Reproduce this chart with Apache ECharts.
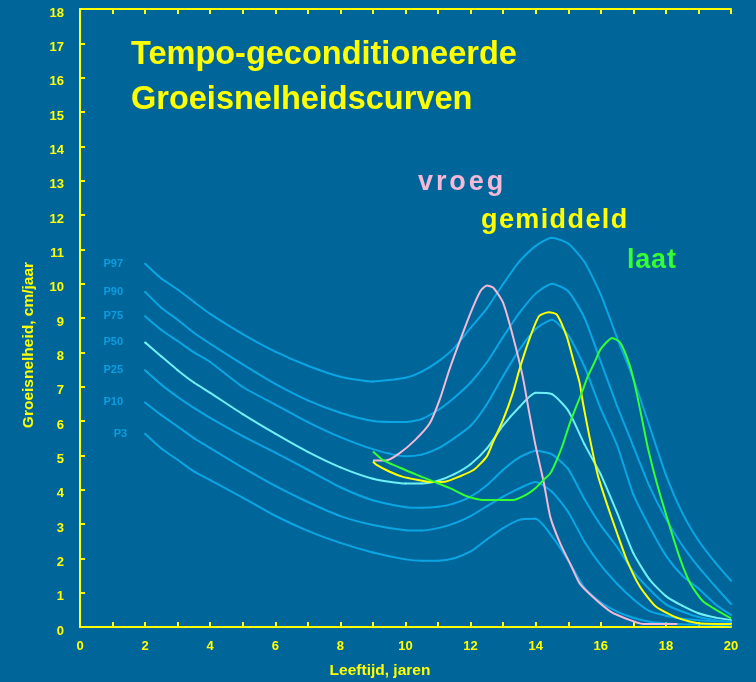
<!DOCTYPE html>
<html><head><meta charset="utf-8">
<script src="https://cdn.jsdelivr.net/npm/echarts@6/dist/echarts.min.js"></script>
<style>html,body{margin:0;padding:0;background:#006699}#c{width:756px;height:682px}</style>
</head><body><div id="c"></div>
<script>
// ---- data ----
const ages = [2,2.5,3,3.5,4,5,6,7,8,9,10,10.5,11,11.5,12,12.5,13,13.5,14,14.5,15,15.5,16,16.5,17,17.5,18,18.5,19,19.5,20];
const p97 = [10.58,10.15,9.83,9.47,9.12,8.53,8.02,7.61,7.29,7.15,7.26,7.44,7.73,8.13,8.71,9.28,9.99,10.65,11.1,11.34,11.17,10.63,9.68,8.42,7.23,5.84,4.43,3.33,2.52,1.9,1.35];
const p90 = [9.76,9.3,8.95,8.57,8.25,7.65,7.08,6.6,6.24,6.0,5.97,6.06,6.32,6.68,7.12,7.71,8.45,9.15,9.71,10.0,9.78,9.0,7.72,6.44,5.26,4.09,3.15,2.38,1.75,1.2,0.67];
const p75 = [9.05,8.65,8.33,8.0,7.72,6.99,6.48,5.97,5.53,5.18,4.97,5.02,5.2,5.5,5.86,6.49,7.31,8.08,8.68,8.95,8.5,7.58,6.35,5.3,3.86,2.91,2.08,1.5,1.12,0.68,0.35];
const p50 = [8.29,7.88,7.48,7.12,6.82,6.2,5.63,5.1,4.65,4.32,4.18,4.18,4.26,4.45,4.74,5.2,5.87,6.41,6.82,6.78,6.3,5.32,4.44,3.33,2.15,1.38,0.9,0.62,0.4,0.28,0.2];
const p25 = [7.48,7.06,6.7,6.38,6.09,5.56,5.08,4.58,4.07,3.69,3.49,3.47,3.5,3.6,3.8,4.13,4.58,4.94,5.13,5.03,4.6,3.72,2.96,2.33,1.61,1.09,0.66,0.45,0.29,0.2,0.15];
const p10 = [6.54,6.17,5.84,5.5,5.21,4.64,4.11,3.64,3.23,2.97,2.82,2.81,2.88,3.02,3.23,3.52,3.8,4.04,4.22,3.94,3.35,2.48,1.8,1.26,0.81,0.46,0.33,0.24,0.2,0.17,0.15];
const p3  = [5.63,5.2,4.87,4.53,4.28,3.77,3.24,2.8,2.45,2.17,1.97,1.93,1.93,2.0,2.2,2.55,2.88,3.12,3.15,2.64,1.94,1.14,0.72,0.45,0.27,0.15,0.1,0.08,0.07,0.06,0.05];
const percentileNames = ['P97','P90','P75','P50','P25','P10','P3'];

const vroegAges = [9.0,9.4,9.8,10.3,10.75,11.05,11.35,11.65,12.0,12.3,12.5,12.7,13.0,13.3,13.6,13.8,14.0,14.25,14.45,14.75,15.05,15.35,15.75,16.3,16.9,17.3,18.35];
const vroegVals = [4.85,4.85,5.05,5.45,5.94,6.62,7.5,8.28,9.15,9.78,9.95,9.88,9.44,8.47,7.3,6.25,5.26,4.2,3.2,2.44,1.86,1.27,0.88,0.45,0.2,0.09,0.09];
const gemAges = [9.0,9.1,9.5,9.9,10.35,10.85,11.25,11.65,12.1,12.5,12.7,13.0,13.3,13.5,13.8,14.1,14.4,14.65,14.95,15.15,15.35,15.45,15.65,15.9,16.2,16.5,16.8,17.2,17.7,18.4,19.0,20.0];
const gemVals = [4.82,4.73,4.53,4.38,4.29,4.22,4.24,4.38,4.58,4.97,5.41,6.04,6.82,7.5,8.37,9.05,9.17,9.1,8.47,7.79,7.11,6.53,5.55,4.45,3.55,2.73,1.95,1.18,0.59,0.25,0.11,0.09];
const laatAges = [9.0,9.3,9.85,10.35,10.85,11.35,11.9,12.4,13.3,13.7,14.0,14.25,14.45,14.65,14.85,15.05,15.25,15.45,15.6,15.8,16.0,16.35,16.6,16.9,17.1,17.3,17.45,17.75,18.15,18.45,18.75,19.15,20.0];
const laatVals = [5.11,4.87,4.63,4.43,4.24,4.05,3.8,3.7,3.7,3.85,4.05,4.29,4.48,4.87,5.36,5.94,6.43,6.91,7.3,7.69,8.1,8.42,8.28,7.59,6.82,5.9,5.2,4.09,2.83,1.95,1.27,0.74,0.25];

const titleLines = ['Tempo-geconditioneerde','Groeisnelheidscurven'];
const xTitle = 'Leeftijd, jaren';
const yTitle = 'Groeisnelheid, cm/jaar';

// ---- styling ----
const FONT = '"Liberation Sans", Arial, Helvetica, sans-serif';
const YEL = '#ffff00';
const BLUE = '#0aa6e4';
const CYAN = '#6ef0f6';
const PINK = '#f4b8d8';
const GREEN = '#33ff33';
const percentileValues = [p97,p90,p75,p50,p25,p10,p3];

function pctSeries(name, vals, color) {
  return {
    type: 'line', name, smooth: 0.2, silent: true, z: 2,
    symbol: 'circle', symbolSize: 2, showAllSymbol: true,
    itemStyle: {color},
    lineStyle: {color, width: 2},
    data: vals.map((v, i) => i === 0
      ? {value: [ages[i], v], label: {show: true, position: 'left', distance: name === 'P3' ? 17 : 21,
          formatter: name, color: '#0a9ee0', fontSize: 11, fontWeight: 'bold', fontFamily: FONT}}
      : [ages[i], v])
  };
}
function curve(name, xs, ys, color) {
  return {
    type: 'line', name, smooth: 0.2, silent: true, symbol: 'none', z: 3,
    lineStyle: {color, width: 2},
    data: xs.map((x, i) => [x, ys[i]])
  };
}

const mctx = document.createElement('canvas').getContext('2d');
function spacedText(str, x, y, size, color, spacing) {
  const font = 'bold ' + size + 'px ' + FONT;
  mctx.font = font;
  const els = [];
  let cx = x;
  for (const ch of str) {
    els.push({type: 'text', x: cx, y: y, silent: true,
      style: {text: ch, font, fill: color, align: 'left', verticalAlign: 'middle'}});
    cx += mctx.measureText(ch).width + spacing;
  }
  return els;
}

const series = percentileNames.map((n, i) => pctSeries(n, percentileValues[i], n === 'P50' ? CYAN : BLUE));
series.push(curve('vroeg', vroegAges, vroegVals, PINK));
series.push(curve('gemiddeld', gemAges, gemVals, YEL));
series.push(curve('laat', laatAges, laatVals, GREEN));

const axisLineStyle = {color: YEL, width: 2};
const graphics = [
  {type: 'text', x: 131, y: 55, silent: true, style: {text: titleLines[0], font: 'bold 32.5px ' + FONT, fill: YEL, align: 'left', verticalAlign: 'middle'}},
  {type: 'text', x: 131, y: 100, silent: true, style: {text: titleLines[1], font: 'bold 32.5px ' + FONT, fill: YEL, align: 'left', verticalAlign: 'middle'}},
  {type: 'text', x: 380, y: 671, silent: true, style: {text: xTitle, font: 'bold 15.5px ' + FONT, fill: YEL, align: 'center', verticalAlign: 'middle'}},
  {type: 'text', x: 29, y: 345, rotation: Math.PI / 2, silent: true, style: {text: yTitle, font: 'bold 15.5px ' + FONT, fill: YEL, align: 'center', verticalAlign: 'middle'}}
].concat(
  spacedText('vroeg', 418, 183, 27, PINK, 2.9),
  spacedText('gemiddeld', 481, 221, 27, YEL, 1.4),
  spacedText('laat', 627, 260.5, 27, GREEN, 0.8)
);

const chart = echarts.init(document.getElementById('c'), null, {renderer: 'canvas'});
chart.setOption({
  backgroundColor: '#006699',
  animation: false,
  grid: {left: 80, right: 25, top: 9, bottom: 55, containLabel: false},
  xAxis: [
    {type: 'value', min: 0, max: 20, interval: 1, position: 'bottom',
      axisLine: {show: true, onZero: false, lineStyle: axisLineStyle},
      axisTick: {show: true, inside: true, length: 5, lineStyle: axisLineStyle},
      axisLabel: {color: YEL, fontWeight: 'bold', fontSize: 13, fontFamily: FONT, margin: 13,
        formatter: v => (v % 2 === 0 ? String(v) : '')},
      splitLine: {show: false}},
    {type: 'value', min: 0, max: 20, interval: 1, position: 'top',
      axisLine: {show: true, onZero: false, lineStyle: axisLineStyle},
      axisTick: {show: true, inside: true, length: 5, lineStyle: axisLineStyle},
      axisLabel: {show: false}, splitLine: {show: false}}
  ],
  yAxis: {type: 'value', min: 0, max: 18, interval: 1,
    axisLine: {show: true, onZero: false, lineStyle: axisLineStyle},
    axisTick: {show: true, inside: true, length: 5, lineStyle: axisLineStyle},
    axisLabel: {color: YEL, fontWeight: 'bold', fontSize: 13, fontFamily: FONT, margin: 16,
      verticalAlign: 'top', lineHeight: 8},
    splitLine: {show: false}},
  series,
  graphic: graphics
});
</script></body></html>
